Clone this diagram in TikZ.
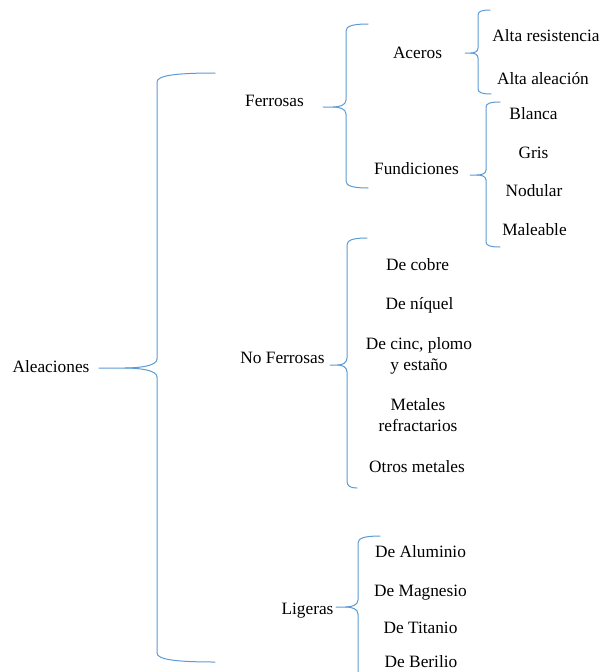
\documentclass[tikz,border=0pt]{standalone}
\usepackage{fontspec}
\setmainfont{Liberation Serif}
\usetikzlibrary{calc}
\definecolor{bracecol}{RGB}{91,155,213}
\tikzset{
  txt/.style={font=\fontsize{17.3}{21.5}\selectfont, inner sep=0pt, anchor=base, text=black},
  brc/.style={draw=bracecol, line width=1pt, line cap=round, line join=round}
}
% #1 name, #2 x arm end (top), #3 x vertical, #4 x tip, #5 y top, #6 y mid, #7 y bottom, #8 curl, #9 x arm end (bottom)
\newcommand\mybrace[9]{%
  \coordinate (#1top) at (#2,#5);
  \coordinate (#1tip) at (#4,#6);
  \coordinate (#1bot) at (#9,#7);
  \draw[brc] (#1top) .. controls ({#3+0.3*(#2-#3)},#5) and (#3,{#5+0.3*#8}) .. (#3,{#5+#8})
    -- (#3,{#6-#8}) .. controls (#3,{#6-0.25*#8}) and ({#3-0.3*(#3-#4)},#6) .. ({#3-0.55*(#3-#4)},#6)
    -- (#1tip);
  \draw[brc] ({#3-0.55*(#3-#4)},#6) .. controls ({#3-0.3*(#3-#4)},#6) and (#3,{#6+0.25*#8}) .. (#3,{#6+#8})
    -- (#3,{#7-#8}) .. controls (#3,{#7-0.3*#8}) and ({#3+0.3*(#9-#3)},#7) .. (#1bot);
}
\begin{document}
\begin{tikzpicture}[x=1pt,y=-1pt]
\useasboundingbox (0,0) rectangle (600,672);
\clip (0,0) rectangle (600,672);

% nodes
\node[txt] (ale) at (51,372.7) {Aleaciones};
\node[txt] (fer) at (274.5,106) {Ferrosas};
\node[txt] (ace) at (417.5,58) {Aceros};
\node[txt] (ares) at (546,41) {Alta resistencia};
\node[txt] (aale) at (543,84) {Alta aleación};
\node[txt] (fun) at (416.5,174) {Fundiciones};
\node[txt] (bla) at (533.5,119) {Blanca};
\node[txt] (gri) at (533.5,158) {Gris};
\node[txt] (nod) at (534,196) {Nodular};
\node[txt] (mal) at (534.5,235) {Maleable};
\node[txt] (nfe) at (282.5,363) {No Ferrosas};
\node[txt] (cob) at (417.5,270) {De cobre};
\node[txt] (niq) at (419.5,309) {De níquel};
\node[txt] (cin) at (419,349) {\begin{tabular}[t]{@{}c@{}}De cinc, plomo\\ y estaño\end{tabular}};
\node[txt] (ref) at (418,410) {\begin{tabular}[t]{@{}c@{}}Metales\\ refractarios\end{tabular}};
\node[txt] (otr) at (417,472) {Otros metales};
\node[txt] (lig) at (307.5,614) {Ligeras};
\node[txt] (alu) at (420.5,557) {De Aluminio};
\node[txt] (mag) at (420.5,596) {De Magnesio};
\node[txt] (tit) at (420.5,633) {De Titanio};
\node[txt] (ber) at (421,667) {De Berilio};

% braces (connectors)
\mybrace{b0}{215}{157}{99}{73}{368}{662}{9}{215}
\mybrace{b1}{368}{346}{323}{24}{107}{188}{7}{368}
\mybrace{b2}{490}{478}{465}{10}{53}{94}{5}{491}
\mybrace{b3}{500}{486}{470}{102}{175}{247}{5}{500}
\mybrace{b4}{367}{347}{330}{238}{365}{488}{7}{357}
\mybrace{b5}{380}{358}{336}{536}{607}{690}{7}{380}
\end{tikzpicture}
\end{document}
